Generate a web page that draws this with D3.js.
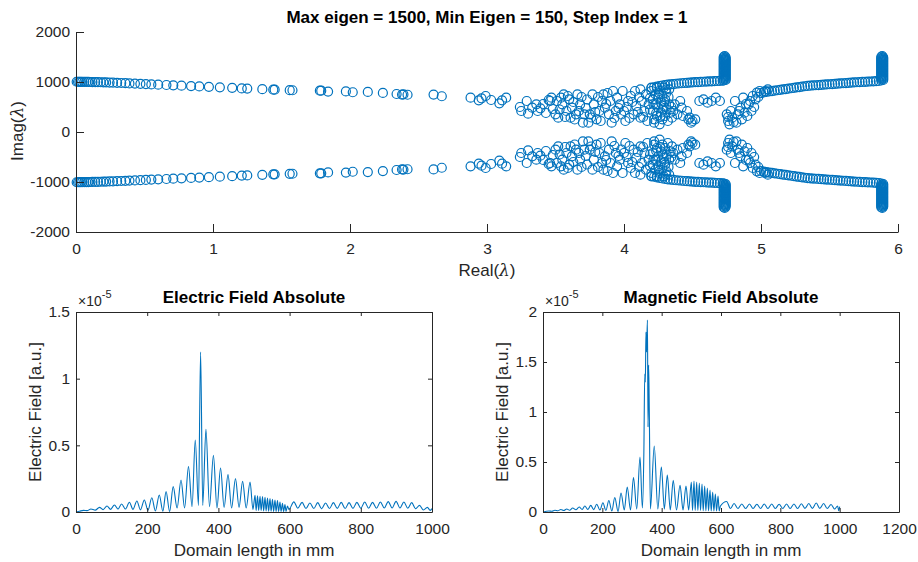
<!DOCTYPE html>
<html>
<head>
<meta charset="utf-8">
<script src="https://d3js.org/d3.v7.min.js"></script>
<style>
  body { margin: 0; background: #fff; }
  svg { display: block; font-family: "Liberation Sans", Arial, Helvetica, sans-serif; }
</style>
</head>
<body>
<svg id="fig" width="918" height="562"></svg>
<script>
// ---- eigenvalues (upper half-plane; the spectrum is conjugate-symmetric) ----
// slow branch along the top, Real 0 .. 2.7
const eigSlowBranch = [
  [0.005,1005],[0.015,1005],[0.025,1004],[0.035,1004],[0.045,1003],[0.06,1003],[0.075,1002],
  [0.09,1001],[0.105,1000],[0.12,999],[0.14,998],[0.16,997],[0.18,995],[0.2,993],[0.22,991],
  [0.245,989],[0.27,986],[0.3,983],[0.33,980],[0.36,976],[0.39,972],[0.43,968],[0.47,963],
  [0.51,958],[0.55,952],[0.6,946],[0.66,940],[0.71,933],[0.77,926],[0.84,919],[0.9,912],
  [0.97,904],[1.05,894],[1.14,883],[1.21,872],[1.25,868],[1.36,856],[1.44,846],[1.45,846],
  [1.56,837],[1.58,835],[1.78,826],[1.79,826],[1.84,808],[1.97,812],[2.02,795],[2.13,801],
  [2.24,782],[2.34,760],[2.38,748],[2.39,752],[2.42,745],[2.61,748],[2.67,715]
];
// scattered cloud, Real 2.8 .. 5.05
const eigCloud = [
  [2.88,687],[2.94,633],[2.96,673],[2.99,720],[3.03,640],[3.09,573],[3.11,633],[3.14,687],
  [3.24,500],[3.25,420],[3.29,620],[3.30,367],[3.33,487],[3.36,553],[3.37,420],[3.39,473],
  [3.41,560],[3.43,380],[3.45,640],[3.46,620],[3.47,687],[3.48,460],
  [3.5,353],[3.51,620],[3.52,287],[3.53,450],[3.54,687],[3.55,553],[3.56,753],[3.57,300],
  [3.58,420],[3.59,720],[3.60,653],[3.61,287],[3.62,487],[3.63,600],[3.64,250],[3.65,353],
  [3.66,753],[3.67,420],[3.68,553],[3.69,700],[3.70,187],[3.71,353],
  [3.72,480],[3.73,650],[3.74,187],[3.75,353],[3.76,290],[3.77,753],[3.78,553],[3.79,400],
  [3.80,253],[3.81,700],[3.82,420],[3.83,220],[3.84,620],[3.85,753],[3.86,487],[3.87,560],
  [3.88,780],[3.89,353],[3.90,620],[3.91,187],[3.92,820],[3.93,280],[3.94,420],[3.95,687],
  [3.96,480],[3.97,553],[3.98,350],[3.99,820],
  [4.0,420],[4.01,220],[4.02,500],[4.03,620],[4.04,280],[4.05,720],[4.06,600],[4.07,353],
  [4.08,820],[4.09,520],[4.10,400],[4.11,700],[4.12,853],[4.12,287],[4.13,620],[4.14,300],
  [4.15,420],[4.16,753],[4.17,220],[4.18,553],[4.19,450],[4.19,680],[4.2,820],
  [4.20,887],[4.21,653],[4.21,420],[4.215,560],[4.22,253],[4.23,753],[4.23,553],[4.235,380],
  [4.24,320],[4.24,887],[4.25,687],[4.25,487],[4.255,780],[4.26,153],[4.26,820],[4.265,300],
  [4.27,587],[4.27,387],[4.28,253],[4.28,720],[4.285,450],[4.29,887],[4.29,520],[4.295,600],
  [4.30,320],[4.30,653],[4.305,850],[4.31,453],[4.31,787],[4.32,220],[4.325,700],[4.33,553],
  [4.34,387],[4.345,500],[4.35,287],[4.33,853],[4.22,187],
  [4.36,420],[4.37,553],[4.39,353],[4.41,620],[4.42,487],[4.43,320],[4.46,420],[4.47,253],
  [4.48,287],[4.49,187],[4.50,220],[4.52,253],
  [4.55,620],[4.58,653],[4.61,587],[4.64,620],[4.67,687],[4.70,620],
  [4.75,353],[4.76,220],[4.76,300],[4.77,153],[4.78,420],[4.79,287],[4.80,200],[4.81,620],
  [4.82,187],[4.83,353],[4.84,420],[4.85,487],[4.86,253],[4.87,687],[4.88,387],[4.89,560],
  [4.90,320],[4.91,553],[4.92,620],[4.93,420],[4.94,720],[4.95,500],[4.96,653],[4.97,787],
  [4.98,700],[4.99,820],[5.03,820],[5.05,853]
];
// smooth arm rising into the first vertical stack
const eigArmA = [
  [4.20,880],[4.22,895],[4.24,908],[4.26,920],[4.28,930],[4.30,938],[4.32,946],[4.34,953],
  [4.36,959],[4.38,965],[4.40,970],[4.42,975],[4.44,980],[4.46,984],[4.48,988],[4.50,992],
  [4.52,996],[4.54,999],[4.56,1002],[4.58,1005],[4.60,1008],[4.62,1011],[4.64,1014],
  [4.66,1017],[4.68,1020],[4.70,1023],[4.72,1027]
];
const eigStackA = [
  [4.728,1030],[4.742,1042],[4.728,1055],[4.742,1067],[4.728,1080],[4.742,1092],[4.728,1105],
  [4.742,1117],[4.728,1130],[4.742,1142],[4.728,1155],[4.742,1167],[4.728,1180],[4.742,1192],
  [4.728,1205],[4.742,1217],[4.728,1230],[4.742,1242],[4.728,1255],[4.742,1267],[4.728,1280],
  [4.742,1292],[4.728,1305],[4.742,1317],[4.728,1330],[4.742,1342],[4.728,1355],[4.742,1367],
  [4.728,1380],[4.742,1392],[4.728,1405],[4.742,1417],[4.728,1430],[4.742,1442],[4.728,1455],
  [4.742,1467],[4.728,1480],[4.742,1492],[4.728,1505],[4.735,1520]
];
// second arm rising into the right-hand stack
const eigArmB = [
  [5.00,780],[5.02,792],[5.04,802],[5.06,811],[5.08,819],[5.10,827],[5.12,835],[5.14,843],
  [5.16,851],[5.18,859],[5.20,867],[5.22,875],[5.24,883],[5.26,891],[5.28,899],[5.30,907],
  [5.32,915],[5.34,922],[5.36,927],[5.38,931],[5.40,935],[5.42,939],[5.44,943],[5.46,947],
  [5.48,951],[5.50,955],[5.52,959],[5.54,963],[5.56,967],[5.58,971],[5.60,975],[5.62,979],
  [5.64,983],[5.66,987],[5.68,991],[5.70,995],[5.72,998],[5.74,1001],[5.76,1004],
  [5.78,1007],[5.80,1010],[5.82,1013],[5.84,1016],[5.86,1020]
];
const eigStackB = [
  [5.878,1030],[5.892,1042],[5.878,1055],[5.892,1067],[5.878,1080],[5.892,1092],[5.878,1105],
  [5.892,1117],[5.878,1130],[5.892,1142],[5.878,1155],[5.892,1167],[5.878,1180],[5.892,1192],
  [5.878,1205],[5.892,1217],[5.878,1230],[5.892,1242],[5.878,1255],[5.892,1267],[5.878,1280],
  [5.892,1292],[5.878,1305],[5.892,1317],[5.878,1330],[5.892,1342],[5.878,1355],[5.892,1367],
  [5.878,1380],[5.892,1392],[5.878,1405],[5.892,1417],[5.878,1430],[5.892,1442],[5.878,1455],
  [5.892,1467],[5.878,1480],[5.892,1492],[5.878,1505],[5.885,1520]
];

// ---- field profiles (values in units of 1e-5) ----
const eFieldX = [0,10,21,31,42,54,66,76,87,97, 108,118,128,139,150,160,171,181,192,202,
  213,223,234,244,253,263,273,284,295,305, 316,326,335,344,350,356,365,375,386,396,
  406,416,427,437,448,458,468,478,489,497,
  503,506,510,513,517,520,524,527,531,534,538,541,545,548,552,555,559,562,566,569,
  573,576,580,583,587,590,594,598,
  612,623,635,646,657,668,679,690,701,712,723,734,745,756,767,778,789,800,811,822,
  833,844,855,866,877,888,899,910,921,932,943,954,965,976,987,995,1000];
const eFieldY = [0,0.006,0.012,0.010,0.022,0.014,0.035,0.018,0.045,0.02,
  0.053,0.022,0.06,0.022,0.073,0.02,0.083,0.016,0.09,0.012,
  0.107,0.008,0.128,0.006,0.153,0.004,0.19,0.03,0.24,0.03,
  0.34,0.04,0.54,0.05,1.2,0.05,0.62,0.04,0.425,0.03,
  0.33,0.035,0.28,0.03,0.25,0.035,0.23,0.03,0.225,0.02,
  0.125,0.01,0.122,0.01,0.118,0.01,0.115,0.008,0.11,0.008,0.105,0.006,0.1,0.006,
  0.095,0.005,0.09,0.005,0.085,0.004,0.075,0.004,0.065,0.004,0.055,0.004,0.045,0.02,
  0.076,0.028,0.072,0.026,0.068,0.026,0.07,0.025,0.068,0.026,0.07,0.027,0.072,0.026,
  0.07,0.027,0.072,0.028,0.075,0.028,0.072,0.028,0.075,0.03,0.078,0.03,0.08,0.03,
  0.075,0.028,0.07,0.025,0.05,0.015,0.035,0.012,0.025];

const hFieldX = [0,20,30,40,50,60,70,80,90,100, 111,122,132,141,151,161,171,181,192,202,
  212,222,232,242,253,263,274,284,295,305, 316,327,335,340,343,345,347,349,352,354,
  356,358,362,375,387,399,409,419,429,439, 450,462,472,482,491,
  500,504,509,513,518,522,527,531,536,540,545,549,554,558,563,567,572,576,581,585,590,594,598,
  619,632,644,657,670,683,696,708,721,733,746,758,771,783,796,808,821,833,846,858,
  871,883,896,908,921,933,946,958,971,983,993,997,1000];
const hFieldY = [0,0.01,0.008,0.018,0.012,0.025,0.015,0.03,0.018,0.04,
  0.022,0.05,0.025,0.06,0.025,0.066,0.024,0.078,0.02,0.093,
  0.015,0.115,0.01,0.145,0.006,0.19,0.02,0.25,0.02,0.345,
  0.03,0.55,0.04,0.6,1.38,1.3,1.8,1.6,1.92,0.85,
  1.47,1.1,0.03,0.66,0.03,0.45,0.03,0.37,0.02,0.317,
  0.02,0.267,0.02,0.26,0.02,
  0.30,0.015,0.31,0.015,0.30,0.015,0.29,0.015,0.28,0.012,0.26,0.012,0.24,0.012,
  0.22,0.01,0.20,0.01,0.18,0.01,0.16,0.01,0.06,
  0.105,0.035,0.085,0.035,0.08,0.035,0.08,0.035,0.078,0.035,0.08,0.035,0.08,0.035,
  0.078,0.035,0.08,0.035,0.08,0.035,0.082,0.036,0.085,0.036,0.09,0.036,0.085,0.035,
  0.075,0.03,0.06,0.012,0.053];

const eigTicksX = [0, 1, 2, 3, 4, 5, 6];
const eigTicksY = [-2000, -1000, 0, 1000, 2000];
const eTicksX = [0, 200, 400, 600, 800, 1000];
const hTicksX = [0, 200, 400, 600, 800, 1000, 1200];
const eTicksY = [0, 0.5, 1, 1.5];
const hTicksY = [0, 0.5, 1, 1.5, 2];

const blue = "#0072BD";
const axisColor = "#262626";
const tickFont = 15.5;
const labelFont = 17;

const svg = d3.select("#fig");

function styleAxis(g) {
  g.attr("font-size", null).attr("font-family", null);
  g.select(".domain").attr("stroke", axisColor);
  g.selectAll(".tick line").attr("stroke", axisColor);
  g.selectAll(".tick text").attr("fill", axisColor).attr("font-size", tickFont);
}

// ===== top: eigenvalue scatter (box off) =====
const ex = d3.scaleLinear().domain([0, 6]).range([76, 898]);
const ey = d3.scaleLinear().domain([-2000, 2000]).range([232, 32]);

const upper = [].concat(eigSlowBranch, eigCloud, eigArmA, eigStackA, eigArmB, eigStackB);
const allEig = upper.concat(upper.map(d => [d[0], -d[1]]));

svg.append("g")
  .attr("fill", "none")
  .attr("stroke", blue)
  .attr("stroke-width", 1.2)
  .selectAll("circle")
  .data(allEig)
  .join("circle")
    .attr("cx", d => ex(d[0]))
    .attr("cy", d => ey(d[1]))
    .attr("r", 4.5);

svg.append("g")
  .attr("transform", "translate(0,232)")
  .call(d3.axisBottom(ex).tickValues(eigTicksX).tickFormat(String)
    .tickSizeInner(-8).tickSizeOuter(0).tickPadding(11))
  .call(styleAxis);

svg.append("g")
  .attr("transform", "translate(76,0)")
  .call(d3.axisLeft(ey).tickValues(eigTicksY).tickFormat(String)
    .tickSizeInner(-8).tickSizeOuter(0).tickPadding(6))
  .call(styleAxis);

svg.append("text")
  .attr("x", 487).attr("y", 22.5)
  .attr("text-anchor", "middle")
  .attr("font-weight", "bold").attr("font-size", labelFont)
  .attr("fill", "#000")
  .text("Max eigen = 1500, Min Eigen = 150, Step Index = 1");

const xl = svg.append("text")
  .attr("x", 487).attr("y", 276)
  .attr("text-anchor", "middle").attr("font-size", labelFont).attr("fill", axisColor);
xl.append("tspan").text("Real(");
xl.append("tspan").attr("font-family", "'DejaVu Serif', serif").attr("font-style", "italic").text("λ");
xl.append("tspan").text(")");

const yl = svg.append("text")
  .attr("transform", "translate(23,131) rotate(-90)")
  .attr("text-anchor", "middle").attr("font-size", labelFont).attr("fill", axisColor);
yl.append("tspan").text("Imag(");
yl.append("tspan").attr("font-family", "'DejaVu Serif', serif").attr("font-style", "italic").text("λ");
yl.append("tspan").text(")");

// ===== bottom panels =====
function fieldPanel(opts) {
  const x = d3.scaleLinear().domain(opts.xDomain).range([opts.left, opts.right]);
  const y = d3.scaleLinear().domain(opts.yDomain).range([512, 312]);
  const data = d3.zip(opts.xs, opts.ys);

  svg.append("path")
    .datum(data)
    .attr("fill", "none")
    .attr("stroke", blue)
    .attr("stroke-width", 1.1)
    .attr("stroke-linejoin", "round")
    .attr("d", d3.line().x(d => x(d[0])).y(d => y(d[1])).curve(d3.curveMonotoneX));

  svg.append("g").attr("transform", "translate(0,512)")
    .call(d3.axisBottom(x).tickValues(opts.xTicks).tickFormat(String)
      .tickSizeInner(-4).tickSizeOuter(0).tickPadding(10.5))
    .call(styleAxis);
  svg.append("g").attr("transform", "translate(0,312)")
    .call(d3.axisTop(x).tickValues(opts.xTicks).tickFormat("")
      .tickSizeInner(-4).tickSizeOuter(0))
    .call(styleAxis);
  svg.append("g").attr("transform", `translate(${opts.left},0)`)
    .call(d3.axisLeft(y).tickValues(opts.yTicks).tickFormat(String)
      .tickSizeInner(-4).tickSizeOuter(0).tickPadding(6))
    .call(styleAxis);
  svg.append("g").attr("transform", `translate(${opts.right},0)`)
    .call(d3.axisRight(y).tickValues(opts.yTicks).tickFormat("")
      .tickSizeInner(-4).tickSizeOuter(0))
    .call(styleAxis);

  const cx = (opts.left + opts.right) / 2;
  svg.append("text")
    .attr("x", cx).attr("y", 303)
    .attr("text-anchor", "middle").attr("font-weight", "bold")
    .attr("font-size", labelFont).attr("fill", "#000")
    .text(opts.title);

  svg.append("text")
    .attr("x", cx).attr("y", 556)
    .attr("text-anchor", "middle").attr("font-size", labelFont).attr("fill", axisColor)
    .text("Domain length in mm");

  svg.append("text")
    .attr("transform", `translate(${opts.left - 35},412) rotate(-90)`)
    .attr("text-anchor", "middle").attr("font-size", labelFont).attr("fill", axisColor)
    .text("Electric Field [a.u.]");

  const ex5 = svg.append("text")
    .attr("x", opts.left + 2).attr("y", 306)
    .attr("font-size", 14).attr("fill", axisColor);
  ex5.append("tspan").text("×10");
  ex5.append("tspan").attr("dy", -8).attr("font-size", 11).text("-5");
}

fieldPanel({
  left: 76, right: 432, xDomain: [0, 1000], yDomain: [0, 1.5],
  xs: eFieldX, ys: eFieldY, xTicks: eTicksX, yTicks: eTicksY,
  title: "Electric Field Absolute"
});

fieldPanel({
  left: 543, right: 899, xDomain: [0, 1200], yDomain: [0, 2],
  xs: hFieldX, ys: hFieldY, xTicks: hTicksX, yTicks: hTicksY,
  title: "Magnetic Field Absolute"
});
</script>
</body>
</html>
